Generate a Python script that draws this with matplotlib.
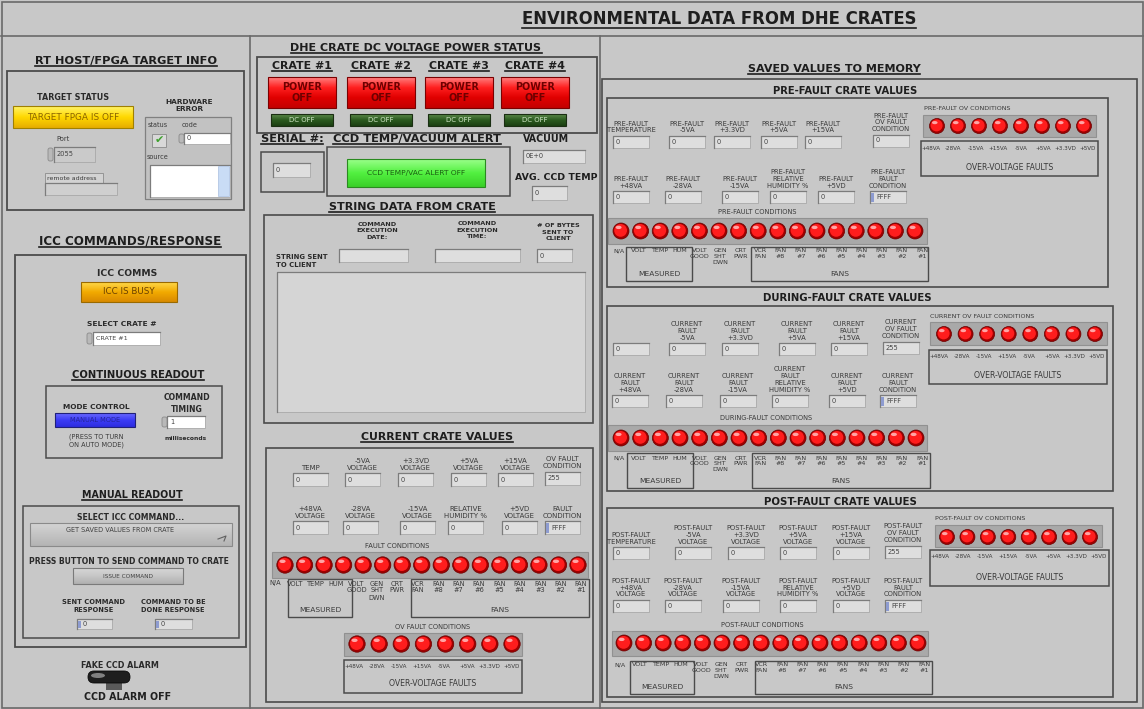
import numpy as np
import matplotlib
matplotlib.use("Agg")
import matplotlib.pyplot as plt
import matplotlib.colors as mcolors
from matplotlib.patches import Rectangle, Circle, Ellipse, FancyBboxPatch

# ---------------- panel content ----------------
main_title = "ENVIRONMENTAL DATA FROM DHE CRATES"

crate_names = ["CRATE #1", "CRATE #2", "CRATE #3", "CRATE #4"]
crate_power = ["POWER\nOFF", "POWER\nOFF", "POWER\nOFF", "POWER\nOFF"]
crate_dc = ["DC OFF", "DC OFF", "DC OFF", "DC OFF"]

serial_no = "0"
vacuum = "0E+0"
avg_ccd_temp = "0"
bytes_sent = "0"

cur_r1_lab = ["TEMP", "-5VA\nVOLTAGE", "+3.3VD\nVOLTAGE", "+5VA\nVOLTAGE", "+15VA\nVOLTAGE", "OV FAULT\nCONDITION"]
cur_r1_val = ["0", "0", "0", "0", "0", "255"]
cur_r2_lab = ["+48VA\nVOLTAGE", "-28VA\nVOLTAGE", "-15VA\nVOLTAGE", "RELATIVE\nHUMIDITY %", "+5VD\nVOLTAGE", "FAULT\nCONDITION"]
cur_r2_val = ["0", "0", "0", "0", "0", "FFFF"]

fault_labels = ["N/A", "VOLT", "TEMP", "HUM", "VOLT\nGOOD", "GEN\nSHT\nDWN", "CRT\nPWR", "VCR\nFAN",
                "FAN\n#8", "FAN\n#7", "FAN\n#6", "FAN\n#5", "FAN\n#4", "FAN\n#3", "FAN\n#2", "FAN\n#1"]
fault_on = [1, 1, 1, 1, 1, 1, 1, 1, 1, 1, 1, 1, 1, 1, 1, 1]
ov_labels = ["+48VA", "-28VA", "-15VA", "+15VA", "-5VA", "+5VA", "+3.3VD", "+5VD"]
ov_on = [1, 1, 1, 1, 1, 1, 1, 1]

pre_r1_lab = ["PRE-FAULT\nTEMPERATURE", "PRE-FAULT\n-5VA", "PRE-FAULT\n+3.3VD", "PRE-FAULT\n+5VA",
              "PRE-FAULT\n+15VA", "PRE-FAULT\nOV FAULT\nCONDITION"]
pre_r1_val = ["0", "0", "0", "0", "0", "0"]
pre_r2_lab = ["PRE-FAULT\n+48VA", "PRE-FAULT\n-28VA", "PRE-FAULT\n-15VA", "PRE-FAULT\nRELATIVE\nHUMIDITY %",
              "PRE-FAULT\n+5VD", "PRE-FAULT\nFAULT\nCONDITION"]
pre_r2_val = ["0", "0", "0", "0", "0", "FFFF"]

dur_r1_lab = ["", "CURRENT\nFAULT\n-5VA", "CURRENT\nFAULT\n+3.3VD", "CURRENT\nFAULT\n+5VA",
              "CURRENT\nFAULT\n+15VA", "CURRENT\nOV FAULT\nCONDITION"]
dur_r1_val = ["0", "0", "0", "0", "0", "255"]
dur_r2_lab = ["CURRENT\nFAULT\n+48VA", "CURRENT\nFAULT\n-28VA", "CURRENT\nFAULT\n-15VA",
              "CURRENT\nFAULT\nRELATIVE\nHUMIDITY %", "CURRENT\nFAULT\n+5VD", "CURRENT\nFAULT\nCONDITION"]
dur_r2_val = ["0", "0", "0", "0", "0", "FFFF"]

post_r1_lab = ["POST-FAULT\nTEMPERATURE", "POST-FAULT\n-5VA\nVOLTAGE", "POST-FAULT\n+3.3VD\nVOLTAGE",
               "POST-FAULT\n+5VA\nVOLTAGE", "POST-FAULT\n+15VA\nVOLTAGE", "POST-FAULT\nOV FAULT\nCONDITION"]
post_r1_val = ["0", "0", "0", "0", "0", "255"]
post_r2_lab = ["POST-FAULT\n+48VA\nVOLTAGE", "POST-FAULT\n-28VA\nVOLTAGE", "POST-FAULT\n-15VA\nVOLTAGE",
               "POST-FAULT\nRELATIVE\nHUMIDITY %", "POST-FAULT\n+5VD\nVOLTAGE", "POST-FAULT\nFAULT\nCONDITION"]
post_r2_val = ["0", "0", "0", "0", "0", "FFFF"]

# ---------------- drawing helpers ----------------
W, H = 1144, 709
BG = "#c8c8c8"
EDGE = "#4b4b4b"
TXT = "#3a3a3a"
DARK = "#1e1e1e"
FIELD = "#dedede"

fig = plt.figure(figsize=(W / 100, H / 100), dpi=100, facecolor=BG)
ax = fig.add_axes([0, 0, 1, 1])
ax.set_facecolor(BG)
ax.set_xlim(0, W)
ax.set_ylim(H, 0)
ax.axis("off")
R = fig.canvas.get_renderer()
underlined = []


def put(x, y, s, size=4.5, w=None, bold=False, color=TXT, ha="center", va="center", ul=False, ls=1.2):
    t = ax.text(x, y, s, fontsize=size, fontweight="bold" if bold else "normal", color=color,
                ha=ha, va=va, linespacing=ls, zorder=6)
    if w:
        t.set_fontsize(size * w / t.get_window_extent(R).width)
    if ul:
        underlined.append(t)
    return t


def frame(x0, y0, x1, y1, lw=1.3, color=EDGE, fc="none", z=1):
    ax.add_patch(Rectangle((x0, y0), x1 - x0, y1 - y0, facecolor=fc, edgecolor=color, lw=lw, zorder=z))


def field(x0, y0, w, h, val="", fc=FIELD, radix=False, size=4.8):
    ax.add_patch(Rectangle((x0, y0), w, h, facecolor=fc, edgecolor="#a8a8a8", lw=0.6, zorder=2))
    ax.plot([x0, x0, x0 + w], [y0 + h, y0, y0], color="#7c7c7c", lw=0.9, zorder=2.1)
    if radix:
        ax.add_patch(Rectangle((x0 + 1, y0 + 1.5), 3, h - 3, facecolor="#8d9bd0", edgecolor="none", zorder=2.2))
    if val:
        ax.text(x0 + (6 if radix else 3), y0 + h / 2, val, fontsize=size, ha="left", va="center",
                color="#444444", zorder=6)


def spinner(x0, y0, h):
    ax.add_patch(FancyBboxPatch((x0, y0 + 1), 5, h - 2, boxstyle="round,pad=0,rounding_size=2",
                                facecolor="#b9b9b9", edgecolor="#8a8a8a", lw=0.6, zorder=2.3))


def grad(x0, y0, x1, y1, stops, ec="#5a5a5a", lw=0.8):
    cols = np.array([mcolors.to_rgb(c) for c in stops])
    t = np.linspace(0, 1, 40)
    pos = np.linspace(0, 1, len(stops))
    img = np.stack([np.interp(t, pos, cols[:, k]) for k in range(3)], axis=-1)[:, None, :]
    ax.imshow(img, extent=(x0, x1, y1, y0), aspect="auto", interpolation="bilinear", zorder=3)
    ax.add_patch(Rectangle((x0, y0), x1 - x0, y1 - y0, facecolor="none", edgecolor=ec, lw=lw, zorder=3.5))


def leds(xs, y, states, r):
    for x, on in zip(xs, states):
        base = "#ff1d1d" if on else "#5a0000"
        ax.add_patch(Circle((x, y), r, facecolor="#a00000", edgecolor="#6a0000", lw=0.5, zorder=4))
        ax.add_patch(Circle((x - 0.4, y - 0.6), r * 0.8, facecolor=base, edgecolor="none", zorder=4.1))
        ax.add_patch(Ellipse((x - r * 0.3, y - r * 0.45), r * 0.75, r * 0.42, facecolor="white",
                             alpha=0.6, edgecolor="none", zorder=4.2))


def strip(x0, y0, x1, y1):
    ax.add_patch(Rectangle((x0, y0), x1 - x0, y1 - y0, facecolor="#a9a9a9", edgecolor="#919191",
                           lw=0.8, zorder=2))


def fault_panel(led_x, led_y, r, box, lab_x, lab_y, meas, fans, size=4.7):
    strip(*box)
    leds(np.linspace(led_x[0], led_x[1], len(fault_on)), led_y, fault_on, r)
    for x, s in zip(np.linspace(lab_x[0], lab_x[1], len(fault_labels)), fault_labels):
        put(x, lab_y, s, size, va="top", ls=1.2)
    frame(*meas, lw=1.0)
    frame(*fans, lw=1.0)
    put((meas[0] + meas[2]) / 2, meas[3] - 7, "MEASURED", 5.4)
    put((fans[0] + fans[2]) / 2, fans[3] - 7, "FANS", 5.4)


def ov_panel(title, tpos, box, led_x, led_y, r, lbox, size=4.1):
    if title:
        put(tpos[0], tpos[1], title, 4.6, ha="left")
    strip(*box)
    leds(np.linspace(led_x[0], led_x[1], len(ov_on)), led_y, ov_on, r)
    frame(*lbox, lw=1.1)
    for x, s in zip(np.linspace(lbox[0] + 10, lbox[2] - 10, len(ov_labels)), ov_labels):
        put(x, lbox[1] + 7, s, size)
    put((lbox[0] + lbox[2]) / 2, lbox[3] - 9, "OVER-VOLTAGE FAULTS", 5.6)


def value_rows(r1x, r1y, r1lab, r1val, r2x, r2y, r2lab, r2val, w=36, h=12, size=4.9):
    for xs, y, labs, vals in ((r1x, r1y, r1lab, r1val), (r2x, r2y, r2lab, r2val)):
        for x, lab, v in zip(xs, labs, vals):
            yy = y - 1.5 if "CONDITION" in lab and "OV" in lab else y
            field(x, yy, w, h, v, radix=(v == "FFFF"))
            if lab:
                put(x + w / 2, yy - 2.5, lab, size, va="bottom", ls=1.15)


# ---------------- global layout ----------------
frame(1.5, 1.5, W - 1.5, H - 1.5, lw=1.2, color="#6a6a6a")
ax.plot([1, W - 1], [36, 36], color="#6a6a6a", lw=1.2, zorder=1)
ax.plot([250, 250], [36, H - 1], color="#6a6a6a", lw=1.2, zorder=1)
ax.plot([599.5, 599.5], [36, H - 1], color="#6a6a6a", lw=1.2, zorder=1)
put(719, 19, main_title, 10, w=395, bold=True, color=DARK, ul=True)

# ---------------- left column ----------------
put(126, 61, "RT HOST/FPGA TARGET INFO", 7, w=182, bold=True, color=DARK, ul=True)
frame(7, 71, 244, 210)
put(73, 98, "TARGET STATUS", 5, w=73, bold=True, color="#2a2a2a")
grad(13, 106, 133, 128, ["#fff46a", "#ffd800", "#e6ad00"], ec="#a08000")
put(73, 117, "TARGET FPGA IS OFF", 5.5, w=92, color="#8a6400")
put(63, 139, "Port", 4.8)
spinner(48, 147, 15)
field(54, 147, 41, 15, "2055", fc="#cacaca")
ax.add_patch(Rectangle((45, 173), 58, 10, facecolor="#d2d2d2", edgecolor="#8c8c8c", lw=0.6, zorder=2))
put(47, 178, "remote address", 4.5, ha="left")
field(45, 183, 72, 12, fc="#cfcfcf")
put(189, 105.5, "HARDWARE\nERROR", 5, w=48, bold=True, color="#2a2a2a", ls=1.3)
frame(145, 117, 231, 199, lw=0.9, color="#808080", fc="#c2c2c2")
put(158, 125, "status", 4.7)
put(190, 125, "code", 4.7)
ax.add_patch(Rectangle((152, 134), 14, 13, facecolor="#d8d8d8", edgecolor="#8a8a8a", lw=0.6, zorder=2))
ax.text(159, 140.5, "\u2714", fontsize=8, color="#3da02d", ha="center", va="center", zorder=6)
spinner(179, 133, 11)
field(184, 133, 46, 11, "0", fc="#ffffff")
put(158, 157, "source", 4.7)
field(150, 165, 80, 32, fc="#ffffff")
ax.add_patch(Rectangle((218, 166), 11, 30, facecolor="#c9dcf5", edgecolor="#a9bfe0", lw=0.5, zorder=2.3))

put(130, 241, "ICC COMMANDS/RESPONSE", 7, w=183, bold=True, color=DARK, ul=True)
frame(15, 255, 246, 647)
put(127, 273, "ICC COMMS", 5, w=60, bold=True, color="#2a2a2a")
grad(81, 282, 177, 302, ["#ffd84a", "#f2aa00", "#d98a00"], ec="#9a6a00")
put(129, 292, "ICC IS BUSY", 6, w=52, color="#6a4000")
put(122, 324, "SELECT CRATE #", 5, w=70, bold=True, color="#2a2a2a")
spinner(87, 332, 13)
field(93, 332, 67, 13, "CRATE #1", fc="#ffffff", size=4.6)

put(138, 375, "CONTINUOUS READOUT", 6, w=132, bold=True, color=DARK, ul=True)
frame(46, 386, 222, 458, lw=1.1)
put(96, 407, "MODE CONTROL", 5, w=68, bold=True, color="#2a2a2a")
grad(55, 413, 135, 427, ["#6a6aff", "#3c3cf5", "#2d2de0"], ec="#20207a")
put(95, 420, "MANUAL MODE", 4.6, w=50, color="#25259a")
put(96, 441, "(PRESS TO TURN\nON AUTO MODE)", 4.7, ls=1.3)
put(187, 403.5, "COMMAND\nTIMING", 5, w=47, bold=True, color="#2a2a2a", ls=1.3)
spinner(162, 416, 12)
field(167, 416, 38, 12, "1", fc="#ffffff")
put(186, 438, "milliseconds", 4.5, w=42, bold=True, color="#2a2a2a")

put(132, 495, "MANUAL READOUT", 6, w=101, bold=True, color=DARK, ul=True)
frame(23, 506, 239, 638, lw=1.1)
put(131, 517, "SELECT ICC COMMAND...", 5, w=108, bold=True, color="#2a2a2a")
grad(30, 523, 232, 546, ["#d4d4d4", "#c4c4c4", "#b4b4b4"], ec="#8a8a8a")
put(120, 530, "GET SAVED VALUES FROM CRATE", 4.5, w=108, color="#404040")
ax.plot([218, 226, 224], [539, 536, 541], color="#606060", lw=0.8, zorder=6)
put(129, 562, "PRESS BUTTON TO SEND COMMAND TO CRATE", 5, w=200, bold=True, color="#2a2a2a")
grad(73, 568, 183, 584, ["#d6d6d6", "#c6c6c6", "#b0b0b0"], ec="#7a7a7a")
put(128, 576, "ISSUE COMMAND", 4.5, w=50, color="#404040")
put(94, 606, "SENT COMMAND\nRESPONSE", 5, w=63, bold=True, color="#2a2a2a", ls=1.3)
put(173, 606, "COMMAND TO BE\nDONE RESPONSE", 5, w=65, bold=True, color="#2a2a2a", ls=1.3)
field(77, 619, 35, 10, "0", radix=True)
field(155, 619, 37, 10, "0", radix=True)

put(120, 665, "FAKE CCD ALARM", 5, w=78, bold=True, color="#2a2a2a")
ax.add_patch(Rectangle((106, 680), 16, 10, facecolor="#5a5a5a", edgecolor="none", zorder=2))
ax.add_patch(FancyBboxPatch((88, 671), 42, 12, boxstyle="round,pad=0,rounding_size=6",
                            facecolor="#1e1e1e", edgecolor="#0a0a0a", lw=0.6, zorder=3))
ax.add_patch(Ellipse((98, 675.5), 14, 5, facecolor="#9a9a9a", edgecolor="none", alpha=0.8, zorder=3.2))
put(128, 697, "CCD ALARM OFF", 7.5, w=87, bold=True, color="#202020")

# ---------------- middle column ----------------
put(416, 48, "DHE CRATE DC VOLTAGE POWER STATUS", 7, w=252, bold=True, color=DARK, ul=True)
frame(257, 57, 597, 133)
for cx, name, pw, dc in zip([302, 381, 459, 535], crate_names, crate_power, crate_dc):
    put(cx, 66, name, 8, w=60, bold=True, color=DARK, ul=True)
    grad(cx - 34, 77, cx + 34, 108, ["#ff8080", "#ff2020", "#e00000", "#c40000"], ec="#7a0000")
    put(cx, 92.5, pw, 7, w=40, bold=True, color="#6e0000", ls=1.15)
    grad(cx - 31, 114, cx + 31, 126, ["#5d8a4a", "#2b5a1f", "#1b4012"], ec="#1a2e12")
    put(cx, 120, dc, 4.6, w=26, color="#d2e8c8")

put(292, 139, "SERIAL #:", 7, w=63, bold=True, color=DARK, ul=True)
put(417, 139, "CCD TEMP/VACUUM ALERT", 7, w=168, bold=True, color=DARK, ul=True)
put(546, 139, "VACUUM", 7, w=46, bold=True, color=DARK)
frame(261, 152, 324, 192, lw=1.1)
field(273, 163, 37, 14, serial_no)
frame(327, 147, 510, 196, lw=1.1)
grad(347, 159, 485, 187, ["#9aff8a", "#52f040", "#3ad028"], ec="#2a8a20")
put(416, 173, "CCD TEMP/VAC ALERT OFF", 5.5, w=98, color="#1b5f12")
field(523, 150, 62, 13, vacuum)
put(556, 178, "AVG. CCD TEMP", 7, w=83, bold=True, color=DARK)
field(532, 186, 35, 14, avg_ccd_temp)

put(412, 207, "STRING DATA FROM CRATE", 7, w=168, bold=True, color=DARK, ul=True)
frame(264, 215, 593, 423, lw=1.2)
put(377, 231, "COMMAND\nEXECUTION\nDATE:", 4.6, w=42, bold=True, color="#2a2a2a", ls=1.3)
put(477, 230, "COMMAND\nEXECUTION\nTIME:", 4.6, w=42, bold=True, color="#2a2a2a", ls=1.3)
put(558, 232, "# OF BYTES\nSENT TO\nCLIENT", 4.6, w=43, bold=True, color="#2a2a2a", ls=1.3)
put(276, 261, "STRING SENT\nTO CLIENT", 4.6, w=52, bold=True, color="#2a2a2a", ha="left", ls=1.3)
field(339, 249, 69, 13)
field(435, 249, 85, 13)
field(537, 249, 35, 13, bytes_sent)
field(277, 272, 308, 140, fc="#d5d5d5")

put(437, 437, "CURRENT CRATE VALUES", 7, w=153, bold=True, color=DARK, ul=True)
frame(266, 448, 593, 702, lw=1.2)
value_rows([293, 345, 398, 451, 498, 545], 473, cur_r1_lab, cur_r1_val,
           [293, 343, 400, 448, 502, 545], 521, cur_r2_lab, cur_r2_val, w=35, h=13, size=5.0)
put(397, 546, "FAULT CONDITIONS", 4.9)
fault_panel((285, 578), 565, 8.2, (272, 552, 588, 578), (275, 581), 580.5,
            (288, 579, 352, 617), (411, 579, 589, 617), size=4.8)
put(433, 627, "OV FAULT CONDITIONS", 4.8)
ov_panel("", None, (344, 633, 522, 656), (357, 512), 644, 8.2, (344, 660, 522, 693), size=4.1)

# ---------------- right column ----------------
put(834, 69, "SAVED VALUES TO MEMORY", 7, w=174, bold=True, color=DARK, ul=True)
frame(602, 79, 1137, 702, lw=1.2)

blocks = [
    dict(title="PRE-FAULT CRATE VALUES", tx=845, ty=91, tw=144, box=(607, 98, 1108, 287),
         r1x=[613, 669, 714, 761, 805, 873], r1y=136, r1lab=pre_r1_lab, r1val=pre_r1_val,
         r2x=[613, 665, 722, 770, 818, 870], r2y=191, r2lab=pre_r2_lab, r2val=pre_r2_val,
         cond="PRE-FAULT CONDITIONS", cx=757, cy=212, led=(621, 915), ly=231, sbox=(608, 218, 927, 244),
         lab=(619, 922), laby=247, meas=(626, 247, 692, 281), fans=(751, 247, 928, 281),
         ov="PRE-FAULT OV CONDITIONS", ovt=(924, 109), ovbox=(923, 115, 1096, 137), ovled=(937, 1084),
         ovy=126, ovl=(921, 141, 1098, 176)),
    dict(title="DURING-FAULT CRATE VALUES", tx=847, ty=298, tw=169, box=(607, 306, 1113, 491),
         r1x=[613, 669, 722, 779, 831, 883], r1y=343, r1lab=dur_r1_lab, r1val=dur_r1_val,
         r2x=[612, 666, 720, 772, 829, 880], r2y=395, r2lab=dur_r2_lab, r2val=dur_r2_val,
         cond="DURING-FAULT CONDITIONS", cx=766, cy=418, led=(621, 916), ly=438, sbox=(608, 425, 927, 451),
         lab=(619, 922), laby=454, meas=(627, 453, 693, 488), fans=(752, 453, 930, 488),
         ov="CURRENT OV FAULT CONDITIONS", ovt=(930, 316), ovbox=(930, 322, 1107, 345), ovled=(944, 1095),
         ovy=334, ovl=(929, 350, 1107, 384)),
    dict(title="POST-FAULT CRATE VALUES", tx=840, ty=502, tw=153, box=(607, 508, 1113, 697),
         r1x=[613, 675, 728, 780, 833, 885], r1y=547, r1lab=post_r1_lab, r1val=post_r1_val,
         r2x=[613, 665, 723, 780, 833, 885], r2y=600, r2lab=post_r2_lab, r2val=post_r2_val,
         cond="POST-FAULT CONDITIONS", cx=762, cy=625, led=(624, 918), ly=643, sbox=(612, 631, 928, 656),
         lab=(620, 924), laby=661, meas=(630, 661, 694, 694), fans=(755, 661, 932, 694),
         ov="POST-FAULT OV CONDITIONS", ovt=(935, 519), ovbox=(935, 525, 1102, 547), ovled=(947, 1090),
         ovy=537, ovl=(930, 550, 1109, 586)),
]

for b in blocks:
    put(b["tx"], b["ty"], b["title"], 6.5, w=b["tw"], bold=True, color=DARK)
    frame(*b["box"], lw=1.2)
    value_rows(b["r1x"], b["r1y"], b["r1lab"], b["r1val"], b["r2x"], b["r2y"], b["r2lab"], b["r2val"])
    put(b["cx"], b["cy"], b["cond"], 4.8)
    fault_panel(b["led"], b["ly"], 8.0, b["sbox"], b["lab"], b["laby"] + 1.5, b["meas"], b["fans"], size=4.6)
    ov_panel(b["ov"], b["ovt"], b["ovbox"], b["ovled"], b["ovy"], 7.5, b["ovl"])

# underline the headings
fig.canvas.draw()
for t in underlined:
    bb = t.get_window_extent(R)
    yy = H - bb.y0 - 0.5
    ax.plot([bb.x0, bb.x1], [yy, yy], color=DARK, lw=1.2, zorder=6)

ax.set_xlim(0, W)
ax.set_ylim(H, 0)
fig.savefig("out.png", dpi=100, facecolor=BG)
